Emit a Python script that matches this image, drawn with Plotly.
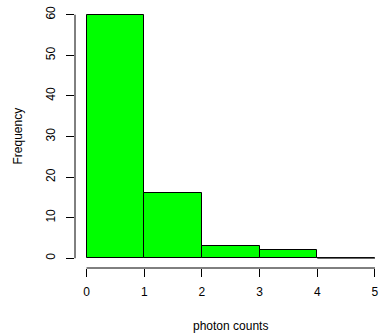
import plotly.graph_objects as go

breaks = [0, 1, 2, 3, 4, 5]
counts = [60, 16, 3, 2, 0]
x_ticks = [0, 1, 2, 3, 4, 5]
y_ticks = [0, 10, 20, 30, 40, 50, 60]
x_label = "photon counts"
y_label = "Frequency"

mids = [(a + b) / 2 for a, b in zip(breaks[:-1], breaks[1:])]
widths = [b - a for a, b in zip(breaks[:-1], breaks[1:])]

fig = go.Figure()
fig.add_trace(go.Bar(x=mids, y=counts, width=widths,
                     marker=dict(color="#00FF00", line=dict(color="black", width=1)),
                     hoverinfo="skip"))
# zero-height bars drawn as a baseline segment (R style)
for m, w, c in zip(mids, widths, counts):
    if c == 0:
        fig.add_shape(type="line", xref="x", yref="y", x0=m - w / 2, x1=m + w / 2, y0=0, y1=0,
                      line=dict(color="#333333", width=1))

font = dict(family="Liberation Sans, Arial, sans-serif", size=12, color="black")

fig.update_layout(
    width=379, height=333,
    margin=dict(l=75, r=0, t=5, b=65),
    paper_bgcolor="white", plot_bgcolor="white",
    showlegend=False,
    font=font,
    bargap=0,
    xaxis=dict(range=[-0.2, 5.07], tickvals=x_ticks, ticks="outside", ticklen=8,
               tickcolor="black", tickwidth=1, showgrid=False, zeroline=False,
               showline=False, tickfont=font, automargin=False, ticklabelstandoff=5),
    yaxis=dict(range=[-2.4, 62.4], tickvals=y_ticks, ticks="outside", ticklen=8,
               tickcolor="black", tickwidth=1, showgrid=False, zeroline=False,
               showline=False, tickangle=-90, tickfont=font, automargin=False,
               ticklabelstandoff=6),
)

# R-style axis lines spanning only the tick range
fig.add_shape(type="line", xref="x", yref="paper", x0=x_ticks[0], x1=x_ticks[-1], y0=0, y1=0,
              line=dict(color="black", width=1))
fig.add_shape(type="line", xref="paper", yref="y", x0=0, x1=0, y0=y_ticks[0], y1=y_ticks[-1],
              line=dict(color="black", width=1))

fig.add_annotation(text=x_label, xref="paper", yref="paper", x=0.5125, y=0, yshift=-58,
                   showarrow=False, font=font, yanchor="middle")
fig.add_annotation(text=y_label, xref="paper", yref="paper", x=0, xshift=-58, y=0.5,
                   showarrow=False, font=font, textangle=-90, xanchor="center")

fig.write_html("out.html", config={"displayModeBar": False},
               post_script="document.body.style.margin='0';document.body.style.overflow='hidden';")
